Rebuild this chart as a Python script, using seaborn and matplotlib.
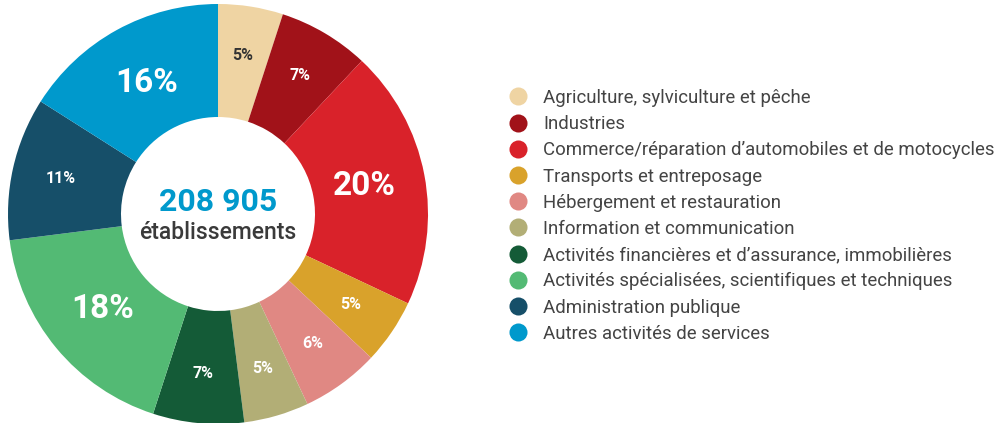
import matplotlib
matplotlib.use('Agg')
import matplotlib.pyplot as plt
from matplotlib.lines import Line2D
import seaborn as sns
import numpy as np

# Répartition des établissements par secteur d'activité
categories = [
    'Agriculture, sylviculture et pêche',
    'Industries',
    "Commerce/réparation d\u2019automobiles et de motocycles",
    'Transports et entreposage',
    'Hébergement et restauration',
    'Information et communication',
    "Activités financières et d\u2019assurance, immobilières",
    'Activités spécialisées, scientifiques et techniques',
    'Administration publique',
    'Autres activités de services',
]
shares = [5, 7, 20, 5, 6, 5, 7, 18, 11, 16]
colors = ['#EFD4A3', '#A11219', '#D9222A', '#D9A22B', '#E08883',
          '#B2AE76', '#145B37', '#53BA74', '#164F69', '#0099CC']
total_label = '208 905'
center_label = 'établissements'

sns.set_theme(style='white')
plt.rcParams['font.family'] = ['Roboto', 'DejaVu Sans']
palette = sns.color_palette(colors)

fig = plt.figure(figsize=(9.95, 4.23), dpi=100)
W, H = 995, 423
cx, cy, R = 218, 209, 210
ax = fig.add_axes([(cx - R) / W, (cy - R) / H, 2 * R / W, 2 * R / H])

wedges, _ = ax.pie(shares, colors=palette, startangle=90, counterclock=False,
                   radius=1, wedgeprops=dict(width=1 - 97 / R, linewidth=0))
ax.set_xlim(-1, 1)
ax.set_ylim(-1, 1)
ax.set_aspect('equal')
ax.axis('off')

# percentage labels
for i, (w, v) in enumerate(zip(wedges, shares)):
    mid = np.deg2rad((w.theta1 + w.theta2) / 2)
    big = v >= 15
    r = 0.71 if big else 0.765
    col = '#333333' if i == 0 else 'white'
    ax.text(r * np.cos(mid), r * np.sin(mid), f'{v}%', ha='center', va='center',
            color=col, fontsize=24 if big else 11.5, fontweight='bold')

ax.text(0, 0.055, total_label, ha='center', va='center', color='#0099CC',
        fontsize=23, fontweight='bold')
ax.text(0, -0.09, center_label, ha='center', va='center', color='#3A3A3A',
        fontsize=16.5, fontweight='medium')

handles = [Line2D([0], [0], marker='o', linestyle='', markersize=13,
                  markerfacecolor=c, markeredgewidth=0) for c in palette]
fig.legend(handles, categories, loc='upper left', bbox_to_anchor=(507 / W, 1 - 89 / H),
           frameon=False, fontsize=13.4, labelcolor='#444444', handlelength=1.2,
           handletextpad=0.75, labelspacing=0.44, borderpad=0, borderaxespad=0)

fig.savefig('out.png', dpi=100, facecolor='white')
